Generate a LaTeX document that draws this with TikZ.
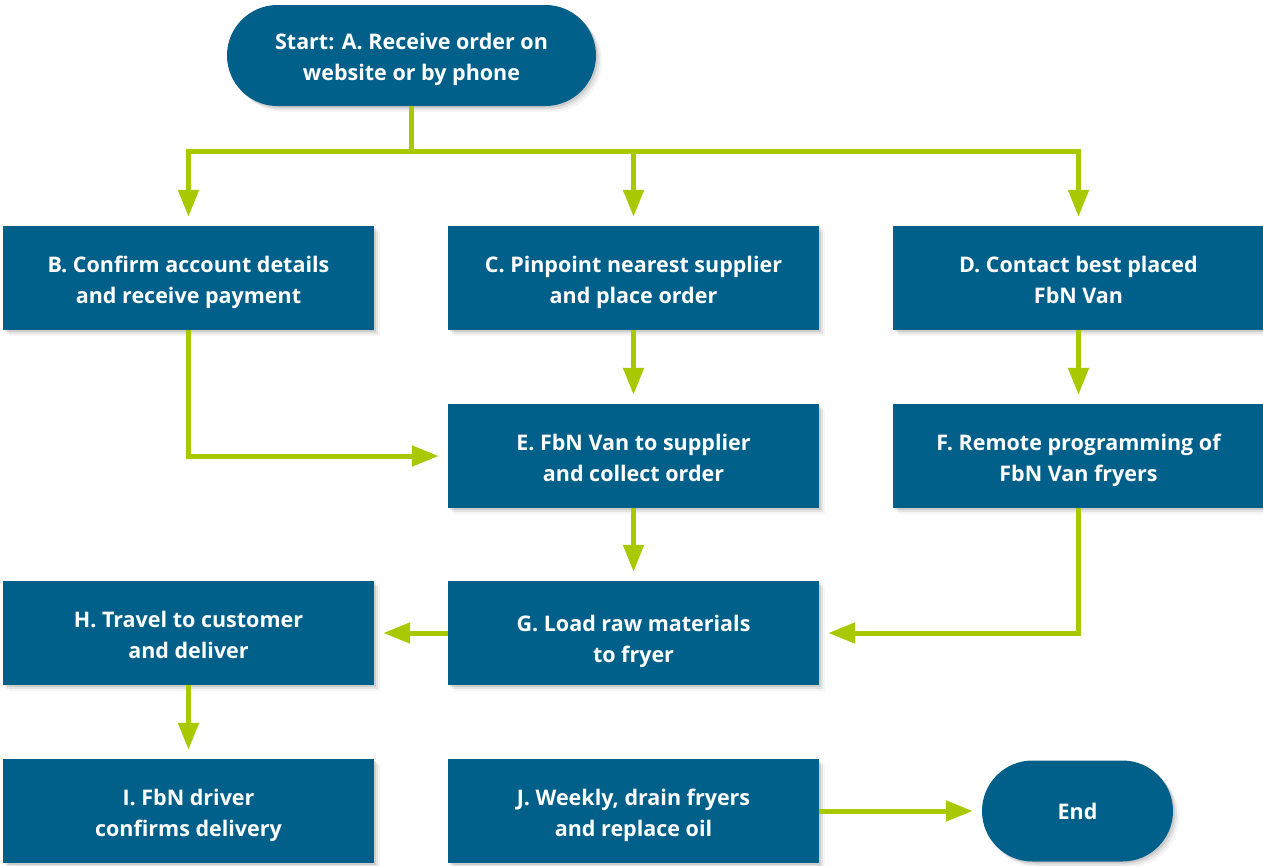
\documentclass[tikz,border=0pt]{standalone}
\usepackage{fontspec}
\setmainfont{Open Sans}
\usetikzlibrary{shapes.misc,shadows,arrows.meta}
\definecolor{fbblue}{RGB}{0,96,138}
\definecolor{fbgreen}{RGB}{168,200,0}
\newcommand\twolines[2][3.5pt]{\raisebox{-#1}[\height][\depth]{\begin{tabular}{@{}c@{}}#2\end{tabular}}}
\tikzset{
  soft/.style={
    drop shadow={shadow xshift=2pt,shadow yshift=-2pt,fill=black,opacity=.10},
    drop shadow={shadow xshift=4pt,shadow yshift=-4pt,fill=black,opacity=.07},
    drop shadow={shadow xshift=6pt,shadow yshift=-6pt,fill=black,opacity=.04}},
  txt/.style={text=white,align=center,font=\fontsize{21.5}{31}\selectfont\bfseries,inner sep=0pt},
  stepbox/.style={rectangle,fill=fbblue,minimum width=371pt,minimum height=104pt,soft,txt},
  term/.style={rounded rectangle,fill=fbblue,minimum height=101pt,soft,txt},
  line/.style={draw=fbgreen,line width=5pt},
  arr/.style={line,-{Triangle[length=27pt,width=20pt]},shorten >=9pt},
}
\begin{document}
\begin{tikzpicture}[x=1pt,y=1pt]
\useasboundingbox (0,0) rectangle (1263,-865);
\node[term,minimum width=369pt] (A) at (411.5,-55.5) {\twolines{Start: A. Receive order on\\website or by phone}};
\node[stepbox] (B) at (188.5,-278) {\twolines{B. Confirm account details\\and receive payment}};
\node[stepbox] (C) at (633.5,-278) {\twolines{C. Pinpoint nearest supplier\\and place order}};
\node[stepbox] (D) at (1078.5,-278) {\twolines{D. Contact best placed\\FbN Van}};
\node[stepbox] (E) at (633.5,-456) {\twolines{E. FbN Van to supplier\\and collect order}};
\node[stepbox] (F) at (1078.5,-456) {\twolines{F. Remote programming of\\FbN Van fryers}};
\node[stepbox] (G) at (633.5,-633) {\twolines[8pt]{G. Load raw materials\\to fryer}};
\node[stepbox] (H) at (188.5,-633) {\twolines{H. Travel to customer\\and deliver}};
\node[stepbox] (I) at (188.5,-811) {\twolines{I. FbN driver\\confirms delivery}};
\node[stepbox] (J) at (633.5,-811) {\twolines{J. Weekly, drain fryers\\and replace oil}};
\node[term,minimum width=191pt] (End) at (1077.5,-811) {End};
\coordinate (j) at (411.5,-151);
\draw[line] (A.south) -- (j);
\draw[arr] (j) -| (B.north);
\draw[arr] (j) -| (C.north);
\draw[arr] (j) -| (D.north);
\draw[arr] (B.south) |- (E.west);
\draw[arr] (C.south) -- (E.north);
\draw[arr] (D.south) -- (F.north);
\draw[arr] (E.south) -- (G.north);
\draw[arr] (F.south) |- (G.east);
\draw[arr] (G.west) -- (H.east);
\draw[arr] (H.south) -- (I.north);
\draw[arr] (J.east) -- (End.west);
\end{tikzpicture}
\end{document}
